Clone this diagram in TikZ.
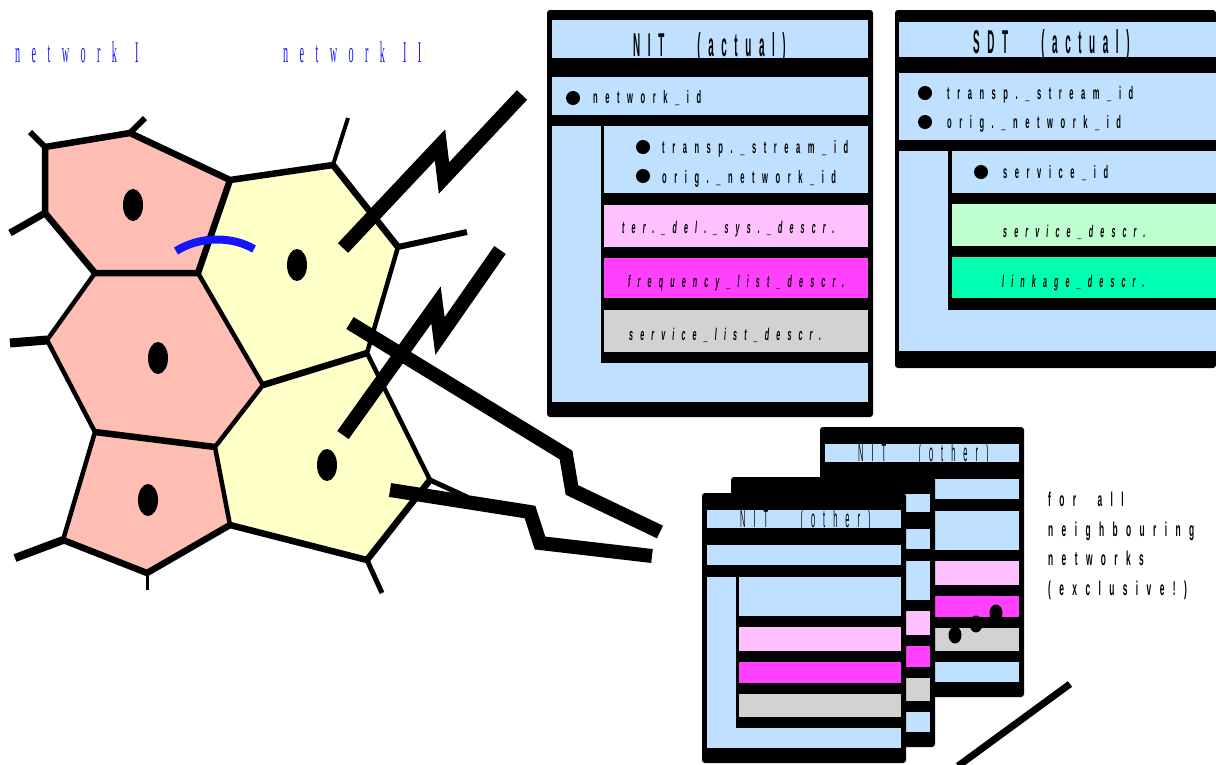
\documentclass[tikz,border=0pt]{standalone}
\usepackage{fontspec}
\usetikzlibrary{shapes.geometric}
\setmainfont{Liberation Sans}
\newfontfamily\titlefont[FakeStretch=0.3,LetterSpace=23,WordSpace=3.2]{Liberation Sans}
\newfontfamily\othertitlefont[FakeStretch=0.3,LetterSpace=32,WordSpace=3.2]{Liberation Sans}
\newfontfamily\fieldfont[FakeStretch=0.42,LetterSpace=42,WordSpace=2]{Liberation Sans}
\newfontfamily\netfont[FakeStretch=0.34,LetterSpace=38,WordSpace=1.3]{Liberation Serif}
\definecolor{cellpink}{RGB}{255,190,180}
\definecolor{cellyellow}{RGB}{255,255,200}
\definecolor{tblblue}{RGB}{192,224,255}
\definecolor{tblpink}{RGB}{255,192,255}
\definecolor{tblmagenta}{RGB}{255,64,255}
\definecolor{tblgrey}{RGB}{210,210,210}
\definecolor{tblmint}{RGB}{192,255,208}
\definecolor{tblgreen}{RGB}{0,255,176}
\definecolor{netblue}{RGB}{20,20,255}
\tikzset{
	wall/.style={black,line width=6.5pt,line join=miter},
	thinwall/.style={black,line width=4.5pt,line join=miter},
	nucleus/.style={ellipse,fill=black,inner sep=0pt,minimum width=20pt,minimum height=32pt},
	dot/.style={ellipse,fill=black,inner sep=0pt,minimum width=13pt,minimum height=17pt},
	bolt/.style={black,line width=14pt,line join=miter},
	tabframe/.style={fill=black,rounded corners=3pt},
	bullet/.style={circle,fill=black,inner sep=0pt,minimum size=14pt},
	tabtitle/.style={anchor=base west,inner sep=0pt,font=\titlefont\bfseries\fontsize{33}{36}\selectfont},
	othertitle/.style={anchor=base west,inner sep=0pt,font=\othertitlefont\fontsize{25}{28}\selectfont},
	field/.style={anchor=base west,inner sep=0pt,font=\fieldfont\bfseries\fontsize{18}{20}\selectfont},
	descr/.style={anchor=base west,inner sep=0pt,font=\fieldfont\bfseries\itshape\fontsize{17}{20}\selectfont},
	netlabel/.style={anchor=base west,inner sep=0pt,text=netblue,font=\netfont\fontsize{30}{32}\selectfont},
}
\newcommand\nitother[3]{%
	\begin{scope}[shift={#1}]
		\fill[tabframe] (0,0) rectangle (204,270);
		\fill[tblblue] (5,17) rectangle (199,35);
		\node[othertitle] (#2) at (38,#3) {NIT (other)};
		\fill[tblblue] (5,52) rectangle (199,72);
		\fill[tblblue] (5,84) rectangle (34,255);
		\fill[tblblue] (5,235) rectangle (199,255);
		\fill[tblblue] (37,84) rectangle (199,123);
		\fill[tblpink] (37,134) rectangle (199,158);
		\fill[tblmagenta] (37,169) rectangle (199,190);
		\fill[tblgrey] (37,201) rectangle (199,224);
	\end{scope}}
\begin{document}
\begin{tikzpicture}[x=1pt,y=-1pt]
	\useasboundingbox (0,0) rectangle (1216,764);
	\coordinate (A) at (45,147);
	\coordinate (B) at (130,133);
	\coordinate (C) at (230,180);
	\coordinate (D) at (198,273);
	\coordinate (E) at (95,273);
	\coordinate (F) at (45,213);
	\coordinate (G) at (333,165);
	\coordinate (H) at (398,247);
	\coordinate (I) at (367,353);
	\coordinate (J) at (263,385);
	\coordinate (K) at (215,447);
	\coordinate (L) at (95,432);
	\coordinate (M) at (47,340);
	\coordinate (N) at (430,480);
	\coordinate (O) at (367,560);
	\coordinate (P) at (230,525);
	\coordinate (Q) at (147,573);
	\coordinate (R) at (63,540);
	\fill[cellpink] (A)--(B)--(C)--(D)--(E)--(F)--cycle;
	\fill[cellpink] (E)--(D)--(J)--(K)--(L)--(M)--cycle;
	\fill[cellpink] (L)--(K)--(P)--(Q)--(R)--cycle;
	\fill[cellyellow] (C)--(G)--(H)--(I)--(J)--(D)--cycle;
	\fill[cellyellow] (J)--(I)--(N)--(O)--(P)--(K)--cycle;
	\coordinate (sA) at (30,132);
	\coordinate (sB) at (145,118);
	\coordinate (sF) at (10,233);
	\coordinate (sG) at (348,118);
	\coordinate (sH) at (467,232);
	\coordinate (sM) at (10,343);
	\coordinate (sN) at (467,497);
	\coordinate (sO) at (382,593);
	\coordinate (sQ) at (147,590);
	\coordinate (sR) at (15,558);
	\draw[wall] (F)--(A)--(B)--(C)--(G)--(H);
	\draw[wall] (C)--(D)--(E)--(F);
	\draw[thinwall] (H)--(I)--(N);
	\draw[thinwall] (D)--(J)--(K)--(P);
	\draw[wall] (J)--(I);
	\draw[thinwall] (E)--(M)--(L);
	\draw[wall] (L)--(K);
	\draw[wall] (R)--(Q)--(P)--(O)--(N);
	\draw[thinwall] (L)--(R);
	\draw[line width=6pt] (A)--(sA);
	\draw[line width=6pt] (B)--(sB);
	\draw[line width=7pt] (F)--(sF);
	\draw[line width=4pt] (G)--(sG);
	\draw[line width=6pt] (H)--(sH);
	\draw[line width=9pt] (M)--(sM);
	\draw[line width=5pt] (N)--(sN);
	\draw[line width=5pt] (O)--(sO);
	\draw[line width=3pt] (Q)--(sQ);
	\draw[line width=8pt] (R)--(sR);
	\node[nucleus] (n1) at (133,205) {};
	\node[nucleus] (n2) at (297,265) {};
	\node[nucleus] (n3) at (158,358) {};
	\node[nucleus] (n4) at (327,465) {};
	\node[nucleus] (n5) at (148,500) {};
	\coordinate (hoL) at (176,251);
	\coordinate (hoR) at (254,249);
	\draw[netblue,line width=8pt] (hoL) .. controls (200,236) and (232,236) .. (hoR);
	\node[netlabel] (net1) at (15,62) {network I};
	\node[netlabel] (net2) at (283,62) {network II};
	\coordinate (b1s) at (343,248);
	\coordinate (b1a) at (440,145);
	\coordinate (b1b) at (444,178);
	\coordinate (b1e) at (522,95);
	\coordinate (b2s) at (343,435);
	\coordinate (b2a) at (436,305);
	\coordinate (b2b) at (440,336);
	\coordinate (b2e) at (500,250);
	\coordinate (b3s) at (350,323);
	\coordinate (b3a) at (566,455);
	\coordinate (b3b) at (572,490);
	\coordinate (b3e) at (660,532);
	\coordinate (b4s) at (390,490);
	\coordinate (b4a) at (530,512);
	\coordinate (b4b) at (540,543);
	\coordinate (b4e) at (652,556);
	\draw[bolt] (b1s)--(b1a)--(b1b)--(b1e);
	\draw[bolt] (b2s)--(b2a)--(b2b)--(b2e);
	\draw[bolt] (b3s)--(b3a)--(b3b)--(b3e);
	\draw[bolt] (b4s)--(b4a)--(b4b)--(b4e);
	\fill[tabframe] (547,10) rectangle (873,417);
	\fill[tblblue] (552,20) rectangle (868,58);
	\fill[tblblue] (552,77) rectangle (868,115);
	\fill[tblblue] (552,126) rectangle (601,402);
	\fill[tblblue] (552,363) rectangle (868,402);
	\fill[tblblue] (604,126) rectangle (868,193);
	\fill[tblpink] (604,205) rectangle (868,247);
	\fill[tblmagenta] (604,258) rectangle (868,298);
	\fill[tblgrey] (604,310) rectangle (868,352);
	\node[tabtitle] (nit) at (633,56) {NIT (actual)};
	\node[bullet] (nitb1) at (573,98) {};
	\node[field] (nitnid) at (593,103) {network\_id};
	\node[bullet] (nitb2) at (643,147) {};
	\node[field] (nittsid) at (662,153) {transp.\_stream\_id};
	\node[bullet] (nitb3) at (643,176) {};
	\node[field] (nitonid) at (662,183) {orig.\_network\_id};
	\node[descr] (nitdel) at (622,233) {ter.\_del.\_sys.\_descr.};
	\node[descr] (nitfreq) at (628,287) {frequency\_list\_descr.};
	\node[descr] (nitsrv) at (629,340) {service\_list\_descr.};
	\fill[tabframe] (895,10) rectangle (1216,368);
	\fill[tblblue] (899,22) rectangle (1216,57);
	\fill[tblblue] (899,73) rectangle (1216,140);
	\fill[tblblue] (899,151) rectangle (948,351);
	\fill[tblblue] (899,310) rectangle (1216,351);
	\fill[tblblue] (952,151) rectangle (1216,193);
	\fill[tblmint] (952,204) rectangle (1216,246);
	\fill[tblgreen] (952,257) rectangle (1216,298);
	\node[tabtitle] (sdt) at (973,53) {SDT (actual)};
	\node[bullet] (sdtb1) at (925,93) {};
	\node[field] (sdttsid) at (947,99) {transp.\_stream\_id};
	\node[bullet] (sdtb2) at (925,122) {};
	\node[field] (sdtonid) at (947,128) {orig.\_network\_id};
	\node[bullet] (sdtb3) at (981,172) {};
	\node[field] (sdtsid) at (1003,178) {service\_id};
	\node[descr] (sdtsrv) at (1003,237) {service\_descr.};
	\node[descr] (sdtlnk) at (1002,287) {linkage\_descr.};
	\nitother{(820,427)}{oth3}{34}
	\node[dot] (d1) at (955,635) {};
	\node[dot] (d2) at (976,624) {};
	\node[dot] (d3) at (996,613) {};
	\nitother{(731,477)}{oth2}{27}
	\nitother{(702,493)}{oth1}{34}
	\node[anchor=north west,align=left,inner sep=0pt,font=\fieldfont\bfseries\fontsize{20}{29.5}\selectfont] (note) at (1048,492) {for all\\neighbouring\\networks\\(exclusive!)};
	\coordinate (t1) at (958,766);
	\coordinate (t2) at (1070,684);
	\draw[line width=7pt] (t1)--(t2);
\end{tikzpicture}
\end{document}
